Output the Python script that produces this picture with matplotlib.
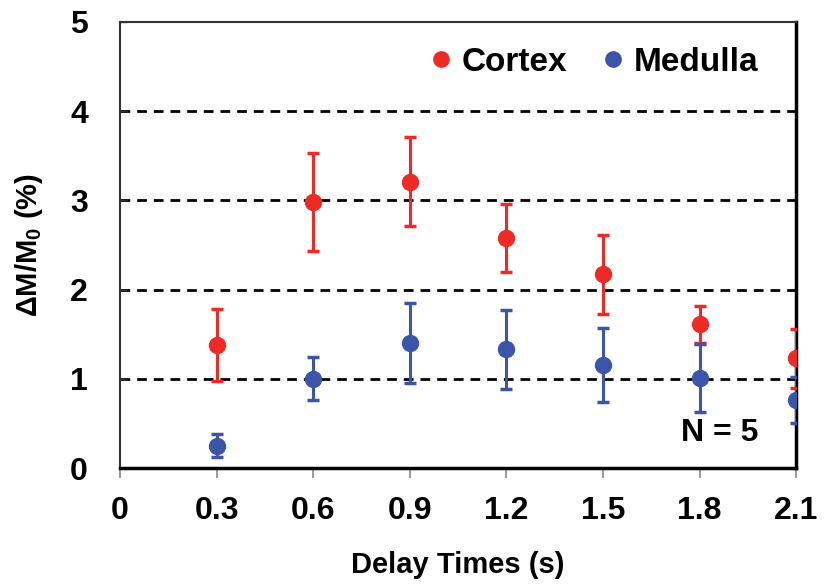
import matplotlib
matplotlib.use("Agg")
import matplotlib.pyplot as plt

plt.rcParams['font.family'] = ['Liberation Sans', 'DejaVu Sans']
plt.rcParams['font.weight'] = 'bold'
plt.rcParams['mathtext.fontset'] = 'custom'
plt.rcParams['mathtext.rm'] = 'Liberation Sans:bold'
plt.rcParams['mathtext.bf'] = 'Liberation Sans:bold'
plt.rcParams['mathtext.it'] = 'Liberation Sans:bold'

delay = [0.3, 0.6, 0.9, 1.2, 1.5, 1.8, 2.1]
cortex = [1.38, 2.985, 3.21, 2.58, 2.17, 1.61, 1.23]
cortex_err = [0.40, 0.55, 0.50, 0.38, 0.44, 0.21, 0.33]
medulla = [0.25, 1.00, 1.40, 1.33, 1.155, 1.01, 0.76]
medulla_err = [0.13, 0.24, 0.45, 0.44, 0.41, 0.38, 0.26]
xticks = [0, 0.3, 0.6, 0.9, 1.2, 1.5, 1.8, 2.1]
xlabels = ['0', '0.3', '0.6', '0.9', '1.2', '1.5', '1.8', '2.1']

red = '#ee2a24'
blue = '#3b55a8'

fig = plt.figure(figsize=(8.25, 5.88), dpi=100)
ax = fig.add_axes([0.1455, 0.204, 0.8195, 0.7586])

for y in [1, 2, 3, 4]:
    ax.axhline(y, color='black', linestyle=(0, (3.5, 2.5)), linewidth=2.0, zorder=1)

ax.errorbar(delay, cortex, yerr=cortex_err, fmt='o', color=red, ecolor=red,
            markersize=11.5, elinewidth=2.2, capsize=4.5, capthick=2.5, zorder=3)
ax.errorbar(delay, medulla, yerr=medulla_err, fmt='o', color=blue, ecolor=blue,
            markersize=11.5, elinewidth=2.2, capsize=4.5, capthick=2.5, zorder=3)

ax.set_xlim(0, 2.1)
ax.set_ylim(0, 5)
ax.set_xticks(xticks)
ax.set_xticklabels(xlabels)
ax.set_yticks([0, 1, 2, 3, 4, 5])
ax.tick_params(axis='x', direction='out', length=7, width=1.2, color='#888888',
               labelsize=23, pad=13)
ax.tick_params(axis='y', direction='in', length=5, width=1, color='#333333',
               labelsize=23, pad=23)

ax.spines['left'].set_linewidth(1.5)
ax.spines['left'].set_color('#333333')
ax.spines['top'].set_linewidth(1.5)
ax.spines['top'].set_color('#333333')
ax.spines['right'].set_linewidth(2.5)
ax.spines['bottom'].set_linewidth(2.5)

ax.set_xlabel('Delay Times (s)', fontsize=21, fontweight='bold', labelpad=18)
ax.set_ylabel(r'$\Delta$M/M$_0$ (%)', fontsize=21, fontweight='bold', labelpad=18)

h1 = ax.plot([], [], 'o', color=red, markersize=11, label='Cortex')[0]
h2 = ax.plot([], [], 'o', color=blue, markersize=11, label='Medulla')[0]
ax.legend(handles=[h1, h2], loc='center right', ncol=2, frameon=False,
          prop={'size': 24, 'weight': 'bold'}, handlelength=0.6,
          handletextpad=0.33, columnspacing=1.05, borderpad=0, borderaxespad=0,
          bbox_to_anchor=(0.944, 0.910))

ax.text(0.944, 0.078, 'N = 5', transform=ax.transAxes, ha='right', va='center',
        fontsize=23, fontweight='bold')

fig.savefig('out.png', dpi=100)
